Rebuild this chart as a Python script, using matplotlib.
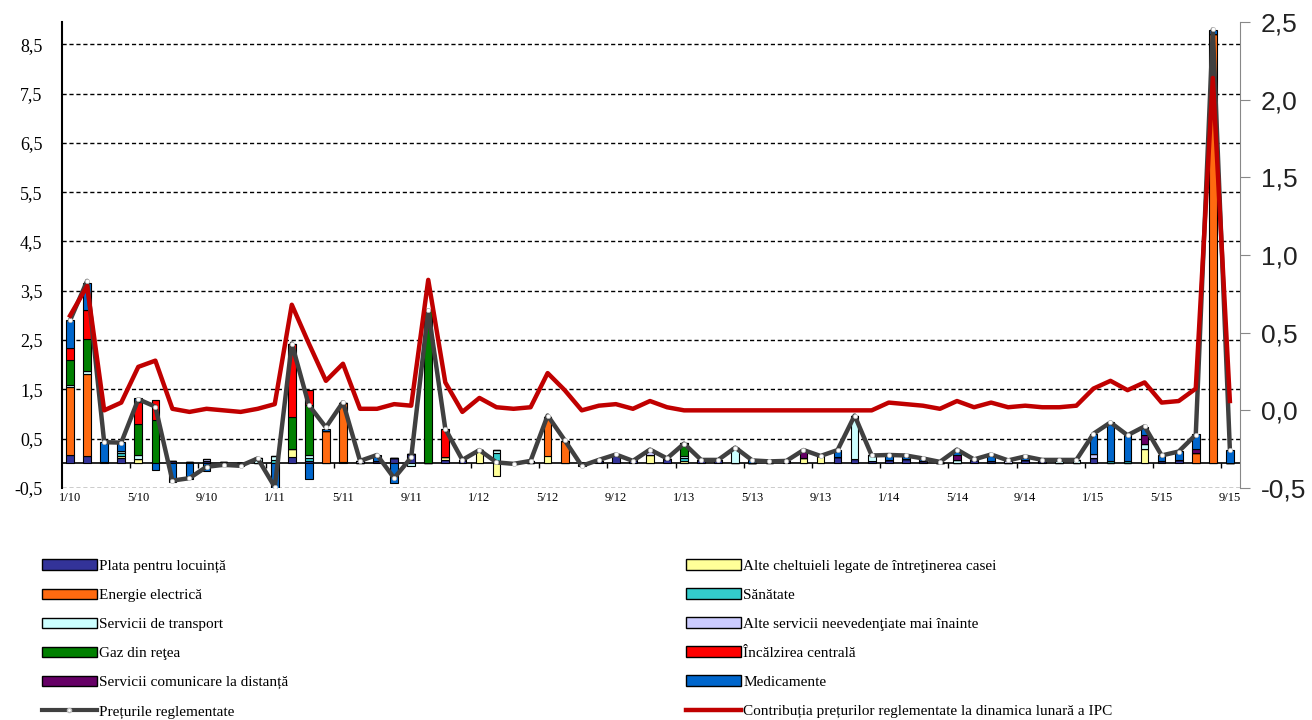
import matplotlib
matplotlib.use('Agg')
import matplotlib.pyplot as plt
import numpy as np
from matplotlib.patches import Patch
from matplotlib.lines import Line2D
from matplotlib.ticker import FuncFormatter

# ============ DATA (monthly, 1/10 .. 9/15) ============
months = [f'{m}/{y}' for y in range(10, 16) for m in range(1, 13)][:69]

# one line per year (Jan..Dec)
locuinta = [0.17, 0.15, 0.02, 0.10, 0, 0, 0.05, 0.02, 0.05, 0.02, 0, 0,
            0, 0.12, 0.05, 0, 0.03, 0, 0.05, 0.10, 0.18, 0, 0.07, 0.07,
            0, 0, 0, 0, 0, 0, 0, 0.05, 0.17, 0.07, 0, 0.09,
            0, 0.07, 0.07, 0, 0, 0, 0.05, 0, 0, 0.13, 0.09, 0.04,
            0.06, 0.08, 0.04, 0, 0, 0.06, 0.05, 0, 0.07, 0.05, 0, 0,
            0.11, 0, 0, 0, 0.05, 0.06, 0, 0, 0]
alte_cheltuieli = [0, 0, 0, 0.05, 0.08, 0, 0, 0, 0, 0, 0, 0,
                   0, 0.17, 0, 0, 0, 0, 0, 0, 0, 0, 0.05, 0,
                   0.27, -0.25, 0, 0, 0.15, 0, 0, 0, 0, 0, 0.17, 0,
                   0.05, 0, 0, 0, 0, 0, 0, 0.10, 0.15, 0, 0, 0,
                   0, 0, 0, 0, 0, 0, 0, 0, 0, 0, 0, 0,
                   0, 0, 0, 0.30, 0, 0, 0, 0, 0]
energie = [1.38, 1.67, 0, 0, 0, 0, 0, 0, 0, 0, 0, 0,
           0, 0, 0, 0.65, 1.20, 0, 0, 0, 0, 0, 0, 0,
           0, 0, 0, 0, 0.80, 0.46, 0, 0, 0, 0, 0, 0,
           0, 0, 0, 0, 0, 0, 0, 0, 0, 0, 0, 0,
           0, 0, 0, 0, 0, 0, 0, 0, 0, 0, 0, 0,
           0, 0, 0, 0, 0, 0, 0.20, 8.70, 0]
sanatate = [0, 0, 0, 0.05, 0, 0, 0, 0, 0, 0, 0, 0,
            0.07, 0, 0.05, 0, 0, 0, 0, 0, 0, 0, 0, 0,
            0, 0.22, 0, 0, 0, 0, 0, 0, 0, 0, 0, 0,
            0.05, 0, 0, 0, 0, 0, 0, 0, 0, 0, 0, 0,
            0, 0, 0, 0, 0, 0, 0, 0, 0, 0, 0, 0,
            0, 0.05, 0.05, 0, 0, 0, 0, 0, 0]
transport = [0.04, 0.06, 0, 0.05, 0.08, 0, 0, 0, 0, 0, 0, 0.10,
             0.08, 0, 0.06, 0, 0, 0, 0, 0, -0.06, 0, 0, 0,
             0, 0.05, 0, 0, 0, 0, 0, 0, 0, 0, 0, 0,
             0.05, 0, 0, 0.32, 0, 0, 0, 0, 0, 0, 0.88, 0.12,
             0, 0, 0, 0, 0.06, 0, 0, 0, 0, 0, 0.07, 0.07,
             0, 0, 0, 0.10, 0, 0, 0, 0, 0]
alte_servicii = [0, 0, 0, 0, 0, 0, 0, 0, 0.03, 0, 0, 0,
                 0, 0, 0, 0, 0, 0.05, 0, 0, 0, 0, 0, 0,
                 0, 0, 0, 0.05, 0, 0, 0, 0, 0, 0, 0.10, 0,
                 0, 0, 0, 0, 0, 0.04, 0, 0, 0, 0, 0, 0,
                 0, 0, 0, 0, 0, 0, 0, 0.06, 0, 0, 0, 0,
                 0.08, 0, 0, 0, 0, 0, 0, 0, 0]
gaz = [0.50, 0.65, 0, 0, 0.64, 0.88, 0, 0, 0, 0, 0, 0,
       0, 0.66, 1.02, 0, 0, 0, 0, 0, 0, 3.10, 0, 0,
       0, 0, 0, 0, 0, 0, 0, 0, 0, 0, 0, 0,
       0.27, 0, 0, 0, 0, 0, 0, 0, 0, 0, 0, 0,
       0, 0, 0, 0, 0, 0, 0, 0, 0, 0, 0, 0,
       0, 0, 0, 0, 0, 0, 0, 0, 0]
incalzire = [0.24, 0.57, 0, 0, 0.44, 0.40, 0, 0, 0, 0, 0, 0,
             0, 1.48, 0.30, 0, 0, 0, 0, 0, 0, 0, 0.58, 0,
             0, 0, 0, 0, 0, 0, 0, 0, 0, 0, 0, 0,
             0, 0, 0, 0, 0, 0, 0, 0, 0, 0, 0, 0,
             0, 0, 0, 0, 0, 0, 0, 0, 0, 0, 0, 0,
             0, 0, 0, 0, 0, 0, 0, 0, 0]
comunicare = [0, 0, 0, 0, 0, 0, 0, 0, 0, 0, 0, 0,
              0, 0, 0, 0, 0, 0, 0, 0, 0, 0, 0, 0,
              0, 0, 0, 0, 0, 0, 0, 0, 0, 0, 0, 0,
              0, 0, 0, 0, 0, 0, 0, 0.17, 0, 0, 0, 0,
              0, 0, 0, 0, 0.10, 0, 0, 0, 0, 0, 0, 0,
              0, 0, 0, 0.17, 0, 0, 0.09, 0, 0]
medicamente = [0.57, 0.55, 0.42, 0.18, 0.08, -0.14, -0.38, -0.32, -0.15, -0.05, -0.05, 0,
               -0.60, 0, -0.32, 0.05, 0, 0, 0.12, -0.40, 0, 0, 0, 0,
               0, 0, 0, 0, 0, 0, -0.05, 0, 0, 0, 0, 0,
               0, 0, 0, 0, 0.07, 0, 0, 0, 0, 0.14, 0, 0,
               0.10, 0.07, 0.06, 0, 0.10, 0, 0.12, 0, 0.05, 0, 0, 0,
               0.40, 0.78, 0.52, 0.17, 0.12, 0.19, 0.30, 0.08, 0.28]

# Preturile reglementate (left axis)
preturi = [2.90, 3.70, 0.43, 0.42, 1.30, 1.15, -0.35, -0.30, -0.07, -0.03, -0.05, 0.10,
           -0.48, 2.43, 1.18, 0.73, 1.24, 0.05, 0.17, -0.30, 0.12, 3.10, 0.70, 0.07,
           0.27, 0.02, -0.01, 0.05, 0.97, 0.47, -0.05, 0.07, 0.18, 0.05, 0.28, 0.10,
           0.40, 0.07, 0.07, 0.32, 0.06, 0.04, 0.05, 0.27, 0.15, 0.27, 0.97, 0.16,
           0.17, 0.16, 0.10, 0.03, 0.28, 0.08, 0.18, 0.06, 0.14, 0.07, 0.07, 0.07,
           0.60, 0.83, 0.57, 0.75, 0.16, 0.24, 0.58, 8.80, 0.28]

# Contributia la dinamica lunara a IPC (right axis)
contributia = [0.61, 0.80, 0.00, 0.05, 0.28, 0.32, 0.01, -0.01, 0.01, 0.00, -0.01, 0.01,
               0.04, 0.68, 0.43, 0.19, 0.30, 0.01, 0.01, 0.04, 0.03, 0.84, 0.18, -0.01,
               0.08, 0.02, 0.01, 0.02, 0.24, 0.13, 0.00, 0.03, 0.04, 0.01, 0.06, 0.02,
               0.00, 0.00, 0.00, 0.00, 0.00, 0.00, 0.00, 0.00, 0.00, 0.00, 0.00, 0.00,
               0.05, 0.04, 0.03, 0.01, 0.06, 0.02, 0.05, 0.02, 0.03, 0.02, 0.02, 0.03,
               0.14, 0.19, 0.13, 0.18, 0.05, 0.06, 0.14, 2.14, 0.06]

# series in stacking order: (label, values, color)
series = [
    ('Plata pentru locuință', locuinta, '#333399'),
    ('Alte cheltuieli legate de întreţinerea casei', alte_cheltuieli, '#FFFF99'),
    ('Energie electrică', energie, '#FF6A10'),
    ('Sănătate', sanatate, '#33CCCC'),
    ('Servicii de transport', transport, '#CCFFFF'),
    ('Alte servicii neevedenţiate mai înainte', alte_servicii, '#CCCCFF'),
    ('Gaz din reţea', gaz, '#008000'),
    ('Încălzirea centrală', incalzire, '#FF0000'),
    ('Servicii comunicare la distanță', comunicare, '#660066'),
    ('Medicamente', medicamente, '#0066CC'),
]

SERIF = 'Liberation Serif'
SANS = 'Liberation Sans'

x = np.arange(len(months))
fig = plt.figure(figsize=(13.12, 7.2), dpi=100)
ax = fig.add_axes([0.0473, 0.3222, 0.8979, 0.6472])

# stacked bars, positives up, negatives down
pos = np.zeros(len(x))
neg = np.zeros(len(x))
for label, vals, color in series:
    v = np.array(vals, dtype=float)
    bottom = np.where(v >= 0, pos, neg)
    ax.bar(x, v, 0.45, bottom=bottom, color=color, edgecolor='black',
           linewidth=0.8, zorder=3)
    pos += np.where(v >= 0, v, 0)
    neg += np.where(v < 0, v, 0)

ax.plot(x, preturi, color='#404040', lw=3.2, marker='o', ms=3,
        mfc='white', mec='#bbbbbb', mew=0.5, zorder=4)

# zero line + category ticks between groups of 4 months
ax.axhline(0, color='black', lw=1.2, zorder=2)
ax.vlines(np.arange(3.5, len(x), 4), -0.1, 0, color='black', lw=1, zorder=2)

ax.set_xlim(-0.47, 68.6)
ax.set_ylim(-0.5, 8.95)
ax.set_yticks(np.arange(-0.5, 9, 1))
ax.yaxis.set_major_formatter(FuncFormatter(lambda v, p: f'{v:.1f}'.replace('.', ',')))
ax.grid(axis='y', color='black', ls=(0, (3, 2)), lw=1, zorder=0)
ax.set_axisbelow(True)
ax.set_xticks(x[::4])
ax.set_xticklabels(months[::4], fontfamily=SERIF, fontsize=9)
ax.tick_params(axis='x', length=0, pad=3)
ax.tick_params(axis='y', length=0, pad=14, labelsize=13)
for t in ax.get_yticklabels():
    t.set_fontfamily(SERIF)
ax.spines['top'].set_visible(False)
ax.spines['right'].set_visible(False)
ax.spines['bottom'].set_visible(False)
ax.spines['left'].set_linewidth(1.5)

# right axis: contribution
ax2 = ax.twinx()
ax2.plot(x, contributia, color='#C00000', lw=3.2, zorder=5)
ax2.set_ylim(-0.5, 2.5)
ax2.set_yticks(np.arange(-0.5, 2.6, 0.5))
ax2.yaxis.set_major_formatter(FuncFormatter(lambda v, p: f'{v:.1f}'.replace('.', ',')))
ax2.tick_params(axis='y', length=7, color='#888888', labelsize=19, pad=8, labelcolor='#222222')
for t in ax2.get_yticklabels():
    t.set_fontfamily(SANS)
for s in ['top', 'left', 'bottom']:
    ax2.spines[s].set_visible(False)
ax2.spines['right'].set_color('#888888')

# legends (two columns)
def patch(i):
    return Patch(facecolor=series[i][2], edgecolor='black', label=series[i][0])

left_handles = [patch(0), patch(2), patch(4), patch(6), patch(8),
                Line2D([], [], color='#404040', lw=3, marker='o', ms=3, mfc='white',
                       mec='#bbbbbb', label='Prețurile reglementate')]
right_handles = [patch(1), patch(3), patch(5), patch(7), patch(9),
                 Line2D([], [], color='#C00000', lw=3.2,
                        label='Contribuția prețurilor reglementate la dinamica lunară a IPC')]

leg_kw = dict(loc='upper left', frameon=False, borderpad=0, borderaxespad=0,
              handlelength=3.6, handletextpad=0.15, labelspacing=1.0,
              prop={'family': SERIF, 'size': 11})
fig.legend(handles=left_handles, bbox_to_anchor=(0.032, 0.223), **leg_kw)
fig.legend(handles=right_handles, bbox_to_anchor=(0.523, 0.223), **leg_kw)

plt.savefig('out.png', dpi=100)
plt.close()
